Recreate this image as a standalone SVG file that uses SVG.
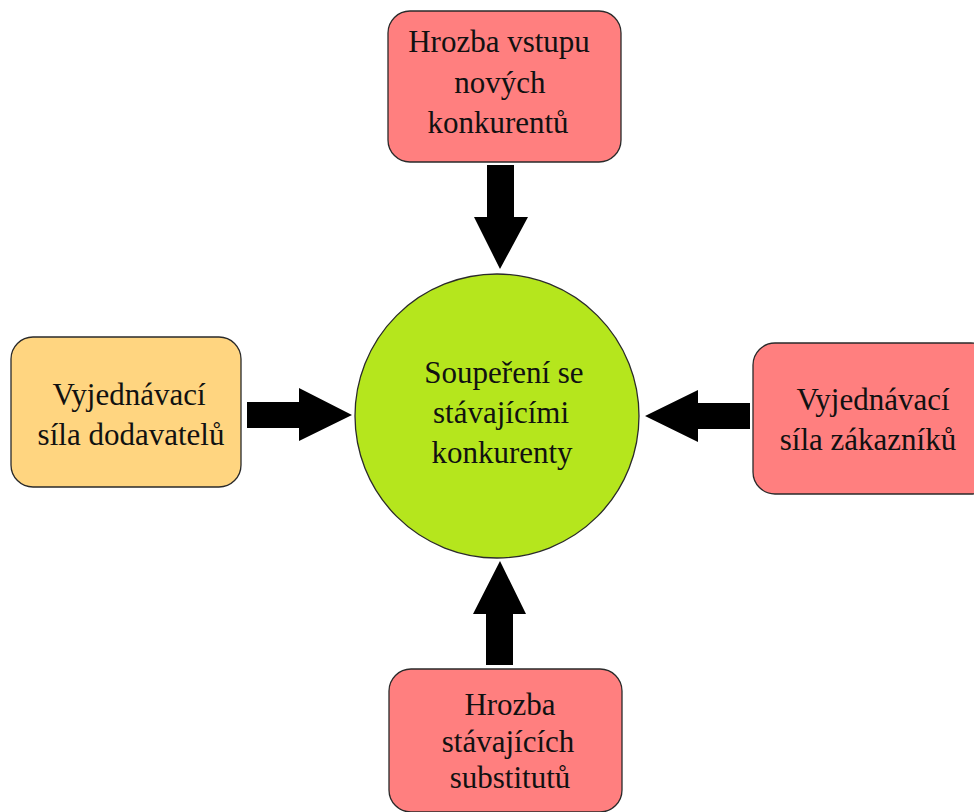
<svg xmlns="http://www.w3.org/2000/svg" width="974" height="812" viewBox="0 0 974 812">
<style>
.box{stroke:#2a2a2a;stroke-width:1.3}
.red{fill:#FF7F7F}
.yel{fill:#FFD580}
.grn{fill:#B5E61D}
.t{font-family:"Liberation Serif","Times New Roman",serif;font-size:31px;fill:#111;text-anchor:middle}
.arr{fill:#000}
</style>
<rect width="974" height="812" fill="#fff"/>
<g id="connectors">
<polygon class="arr" points="487,165 514,165 514,217 528,217 500,269 474,217 487,217"/>
<polygon class="arr" points="247,402 299,402 299,388 352,415 299,441 299,428 247,428"/>
<polygon class="arr" points="750,403 698,403 698,390 645,416 698,442 698,429 750,429"/>
<polygon class="arr" points="486,665 513,665 513,614 526,614 500,561 473,614 486,614"/>
</g>
<g id="node-center">
<circle class="box grn" cx="497" cy="416" r="142"/>
<text class="t" x="504" y="383">Soupeření se</text>
<text class="t" x="501" y="423">stávajícími</text>
<text class="t" x="502" y="463">konkurenty</text>
</g>
<g id="node-top">
<rect class="box red" x="388" y="11" width="233" height="151" rx="22"/>
<text class="t" x="499" y="52">Hrozba vstupu</text>
<text class="t" x="500" y="93">nových</text>
<text class="t" x="498" y="133">konkurentů</text>
</g>
<g id="node-left">
<rect class="box yel" x="11" y="337" width="230" height="150" rx="22"/>
<text class="t" x="129" y="405">Vyjednávací</text>
<text class="t" x="131" y="445">síla dodavatelů</text>
</g>
<g id="node-right">
<rect class="box red" x="753" y="343" width="240" height="151" rx="22"/>
<text class="t" x="873" y="410">Vyjednávací</text>
<text class="t" x="868" y="450">síla zákazníků</text>
</g>
<g id="node-bottom">
<rect class="box red" x="389" y="669" width="233" height="143" rx="22"/>
<text class="t" x="510" y="715">Hrozba</text>
<text class="t" x="508" y="752">stávajících</text>
<text class="t" x="510" y="788">substitutů</text>
</g>
</svg>
